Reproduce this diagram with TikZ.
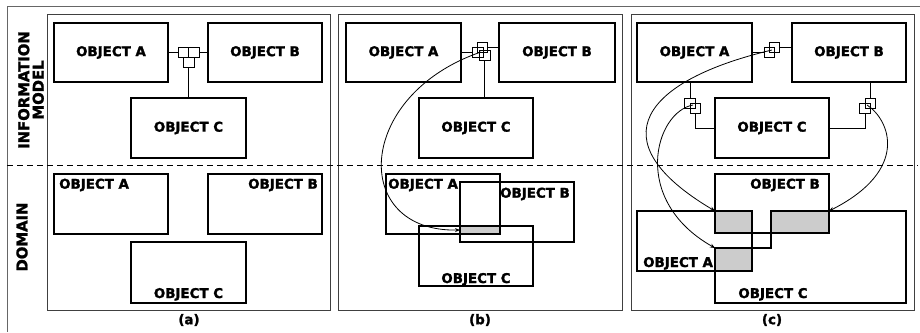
\documentclass[tikz,border=0pt]{standalone}
\usepackage{fontspec}
\setmainfont{DejaVu Sans}[BoldFeatures={FakeBold=1.6}]
\usetikzlibrary{arrows.meta}
\tikzset{
 box/.style={draw, line width=2.2pt, inner sep=0pt},
 txt/.style={font=\bfseries\fontsize{13.4}{14}\selectfont, inner sep=0pt},
 vtxt/.style={font=\bfseries\fontsize{14.8}{14.5}\selectfont, inner sep=0pt, rotate=90, align=center},
 sq/.style={draw, line width=0.8pt, minimum width=10.5pt, minimum height=10pt, inner sep=0pt},
 conn/.style={line width=0.9pt},
 panel/.style={draw=black!75, line width=0.9pt},
 arr/.style={line width=0.8pt, -{Stealth[length=5pt,width=4pt]}},
 shade/.style={fill=black!20, draw=none},
 dashline/.style={line width=0.8pt, dash pattern=on 6pt off 4pt},
}
\begin{document}
\begin{tikzpicture}[x=1pt,y=-1pt]
\useasboundingbox (0,0) rectangle (920,332);
% outer frame
\draw[draw=black!60, line width=0.9pt] (920,6) -- (7,6) -- (7,332);
% panels
\draw[panel] (47,14) rectangle (330,310);
\draw[panel] (338,14) rectangle (622,310);
\draw[panel] (631,14) rectangle (914,310);
\draw[dashline] (7,165) -- (918,165);
% side labels
\node[vtxt] (lblIM) at (31,90) {INFORMATION\\MODEL};
\node[vtxt] (lblD) at (22,237) {DOMAIN};

% ================= (a) =================
\node[box, txt, minimum width=114pt, minimum height=59pt] (aA) at (111,52.5) {OBJECT A};
\node[box, txt, minimum width=114pt, minimum height=59pt] (aB) at (265,52.5) {OBJECT B};
\node[box, txt, minimum width=115pt, minimum height=60pt] (aC) at (188.5,128) {OBJECT C};
\node[sq] (as1) at (183.5,52) {};
\node[sq] (as2) at (194,52) {};
\node[sq] (as3) at (188.7,62.5) {};
\draw[conn] (as1.west) -- (as1.west -| aA.east);
\draw[conn] (as2.east) -- (as2.east -| aB.west);
\draw[conn] (as3.south) -- (as3.south |- aC.north);

\node[box, minimum width=114pt, minimum height=60pt] (daA) at (111,204) {};
\node[box, minimum width=114pt, minimum height=60pt] (daB) at (265,204) {};
\node[box, minimum width=115pt, minimum height=61pt] (daC) at (188.5,272.5) {};
\node[txt, anchor=north west] (daAt) at (59,178.5) {OBJECT A};
\node[txt, anchor=north east] (daBt) at (318,178.5) {OBJECT B};
\node[txt, anchor=base] (daCt) at (188.5,298) {OBJECT C};
\node[txt] (capa) at (189,320) {(a)};

% ================= (b) =================
\node[box, txt, minimum width=115pt, minimum height=59pt] (bA) at (403.5,52.5) {OBJECT A};
\node[box, txt, minimum width=116pt, minimum height=59pt] (bB) at (557,52.5) {OBJECT B};
\node[box, txt, minimum width=114pt, minimum height=60pt] (bC) at (476,128) {OBJECT C};
\node[sq] (bs1) at (482.5,47) {};
\node[sq] (bs2) at (478,52.5) {};
\node[sq] (bs3) at (484.7,55) {};
\draw[conn] (bs2.west) -- (bs2.west -| bA.east);
\draw[conn] (bs1.east) -- (bs1.east -| bB.west);
\draw[conn] (bs3.south) -- (bs3.south |- bC.north);

\fill[shade] (460,226) rectangle (500,234);
\node[box, minimum width=114pt, minimum height=60pt] (dbA) at (443,204) {};
\node[box, minimum width=114pt, minimum height=60pt] (dbB) at (517,212) {};
\node[box, minimum width=114pt, minimum height=60pt] (dbC) at (476,256) {};
\node[txt, anchor=north west] (dbAt) at (388,178.5) {OBJECT A};
\node[txt, anchor=north east] (dbBt) at (570,187.5) {OBJECT B};
\node[txt, anchor=base] (dbCt) at (476,283) {OBJECT C};
\coordinate (bHub) at (481,52);
\coordinate (bTgt) at (460,230);
\draw[arr] (bHub) .. controls (355,95) and (350,232) .. (bTgt);
\node[txt] (capb) at (480,320) {(b)};

% ================= (c) =================
\node[box, txt, minimum width=115pt, minimum height=59pt] (cA) at (694.5,52.5) {OBJECT A};
\node[box, txt, minimum width=114pt, minimum height=59pt] (cB) at (849,52.5) {OBJECT B};
\node[box, txt, minimum width=114pt, minimum height=60pt] (cC) at (772,128) {OBJECT C};
\node[sq] (cs1) at (774.5,47.5) {};
\node[sq] (cs2) at (769.5,52.5) {};
\draw[conn] (cs2.west) -- (cs2.west -| cA.east);
\draw[conn] (cs1.east) -- (cs1.east -| cB.west);
\node[sq] (cs3) at (690,103) {};
\node[sq] (cs4) at (695.5,108) {};
\draw[conn] (cs3.north) -- (cs3.north |- cA.south);
\draw[conn] (cs4.south) |- (cC.west);
\node[sq] (cs5) at (870.5,103) {};
\node[sq] (cs6) at (865,108) {};
\draw[conn] (cs5.north) -- (cs5.north |- cB.south);
\draw[conn] (cs6.south) |- (cC.east);

\fill[shade] (715,211) rectangle (752,233);
\fill[shade] (771,211) rectangle (829,233);
\fill[shade] (715,248) rectangle (752,271);
\node[box, minimum width=114pt, minimum height=59pt] (dcB) at (772,203.5) {};
\node[box, minimum width=115pt, minimum height=60pt] (dcA) at (694.5,241) {};
\draw[line width=2.2pt, line join=miter] (715,248) -- (771,248) -- (771,211) -- (906,211) -- (906,303) -- (715,303) -- cycle;
\node[txt, anchor=north east] (dcBt) at (820,178.5) {OBJECT B};
\node[txt, anchor=base west] (dcAt) at (643,267) {OBJECT A};
\node[txt, anchor=base] (dcCt) at (773,298) {OBJECT C};
\coordinate (cHubAB) at (772,50);
\coordinate (cHubAC) at (693,105);
\coordinate (cHubBC) at (867,105);
\coordinate (cTgtAB) at (715,211);
\coordinate (cTgtAC) at (715,248);
\coordinate (cTgtBC) at (829,211);
\draw[arr] (cHubAB) .. controls (645,80) and (595,140) .. (cTgtAB);
\draw[arr] (cHubAC) .. controls (655,112) and (630,200) .. (cTgtAC);
\draw[arr] (cHubBC) .. controls (890,120) and (910,170) .. (cTgtBC);
\node[txt] (capc) at (772,320) {(c)};
\end{tikzpicture}
\end{document}
